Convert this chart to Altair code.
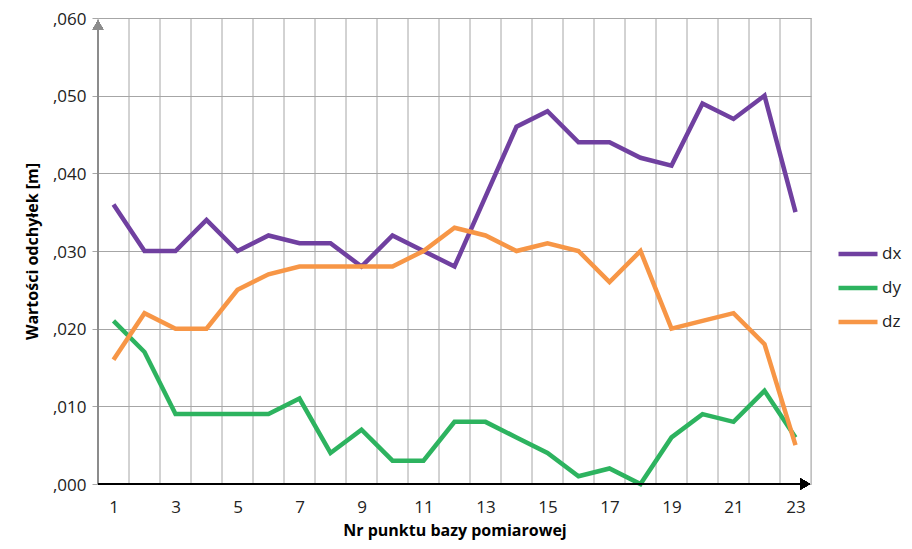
import altair as alt
import pandas as pd

points = list(range(1, 24))
dx = [0.036, 0.030, 0.030, 0.034, 0.030, 0.032, 0.031, 0.031, 0.028, 0.032, 0.030, 0.028,
      0.037, 0.046, 0.048, 0.044, 0.044, 0.042, 0.041, 0.049, 0.047, 0.050, 0.035]
dy = [0.021, 0.017, 0.009, 0.009, 0.009, 0.009, 0.011, 0.004, 0.007, 0.003, 0.003, 0.008,
      0.008, 0.006, 0.004, 0.001, 0.002, 0.000, 0.006, 0.009, 0.008, 0.012, 0.006]
dz = [0.016, 0.022, 0.020, 0.020, 0.025, 0.027, 0.028, 0.028, 0.028, 0.028, 0.030, 0.033,
      0.032, 0.030, 0.031, 0.030, 0.026, 0.030, 0.020, 0.021, 0.022, 0.018, 0.005]
series_names = ["dx", "dy", "dz"]
series_colors = ["#7040A0", "#2DB35F", "#F79646"]
y_ticks = [0.0, 0.01, 0.02, 0.03, 0.04, 0.05, 0.06]
x_tick_labels = [p for p in points if p % 2 == 1]

W, H = 713, 466
FONT = "Open Sans"

rows = []
for name, vals in zip(series_names, [dx, dy, dz]):
    for p, v in zip(points, vals):
        rows.append({"punkt": p, "wartosc": v, "seria": name})
df = pd.DataFrame(rows)

bounds = pd.DataFrame({"b": [p - 0.5 for p in points] + [points[-1] + 0.5]})

xscale = alt.Scale(domain=[points[0] - 0.5, points[-1] + 0.5], nice=False, zero=False)
yscale = alt.Scale(domain=[y_ticks[0], y_ticks[-1]], nice=False)

xaxis = alt.Axis(values=x_tick_labels, grid=False, domain=False, ticks=False,
                 labelFontSize=17, labelFont=FONT, labelColor="#222222",
                 labelPadding=15, title="Nr punktu bazy pomiarowej",
                 titleFont="Open Sans", titleFontSize=16, titleFontWeight="bold",
                 titleColor="#000000", titlePadding=7)

vgrid = alt.Chart(bounds).mark_rule(color="#A6A6A6", strokeWidth=1).encode(
    x=alt.X("b:Q", scale=xscale, axis=xaxis, title="Nr punktu bazy pomiarowej")
)

lines = alt.Chart(df).mark_line(strokeWidth=4.5, strokeJoin="miter").encode(
    x=alt.X("punkt:Q", scale=xscale, axis=xaxis, title="Nr punktu bazy pomiarowej"),
    y=alt.Y("wartosc:Q", scale=yscale,
            axis=alt.Axis(values=y_ticks, grid=True, gridColor="#A6A6A6", gridWidth=1,
                          domain=False, ticks=True, tickSize=6, tickColor="#A6A6A6",
                          labelExpr="replace(format(datum.value, '.3f'), '0.', ',')",
                          labelFontSize=17, labelFont=FONT, labelColor="#222222",
                          labelPadding=6, labelOffset=1,
                          title="Wartości odchyłek [m]", titleFont="Open Sans",
                          titleFontSize=16, titleFontWeight="bold", titleColor="#000000",
                          titlePadding=12)),
    color=alt.Color("seria:N",
                    scale=alt.Scale(domain=series_names, range=series_colors),
                    legend=alt.Legend(title=None, orient="none", legendX=738, legendY=214,
                                      symbolType="stroke", symbolStrokeWidth=4.5,
                                      symbolSize=1521, rowPadding=3,
                                      labelFontSize=17, labelFont=FONT, labelColor="#222222",
                                      labelOffset=2)),
)

yaxis_line = alt.Chart(bounds).mark_rule(color="#8C8C8C", strokeWidth=2).encode(
    x=alt.value(0), y=alt.value(H), y2=alt.value(4)
)
yarrow = alt.Chart(bounds).mark_point(shape="triangle-up", filled=True, color="#8C8C8C",
                                      opacity=1, size=110).encode(
    x=alt.value(0), y=alt.value(7)
)
xaxis_line = alt.Chart(bounds).mark_rule(color="#000000", strokeWidth=2).encode(
    x=alt.value(0), x2=alt.value(W - 6), y=alt.value(H)
)
xarrow = alt.Chart(bounds).mark_point(shape="triangle-right", filled=True, color="#000000",
                                      opacity=1, size=130).encode(
    x=alt.value(W - 6), y=alt.value(H)
)

chart = alt.layer(vgrid, lines, yaxis_line, yarrow, xaxis_line, xarrow).properties(
    width=W, height=H,
    autosize=alt.AutoSizeParams(type="none"),
    padding={"left": 90, "top": 10, "right": 93, "bottom": 57},
).configure_view(stroke=None).configure(background="white")

chart.save("out.html", embed_options={"renderer": "svg", "actions": False})
